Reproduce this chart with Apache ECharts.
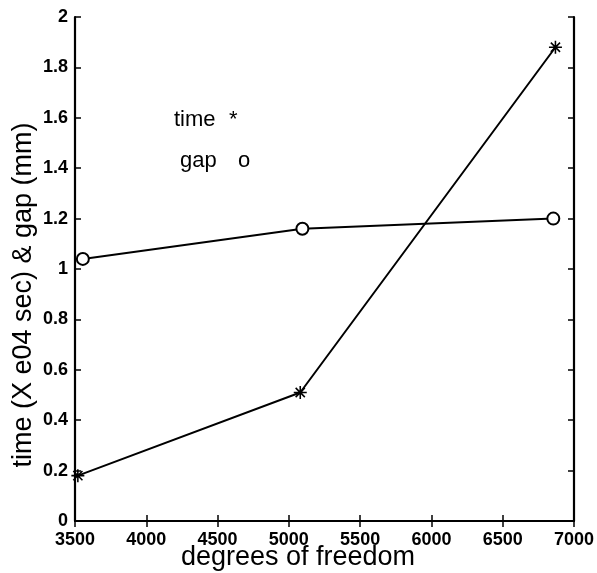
<!DOCTYPE html>
<html>
<head>
<meta charset="utf-8">
<script src="https://cdn.jsdelivr.net/npm/echarts@6/dist/echarts.min.js"></script>
<style>
  html, body { margin: 0; padding: 0; background: #fff; }
  #chart { width: 597px; height: 573px; }
</style>
</head>
<body>
<div id="chart"></div>
<script>
// degrees of freedom vs time (x 1e4 s) and gap (mm)
const dofTime = [3520, 5080, 6870]
const timeVals = [0.18, 0.51, 1.88]
const dofGap = [3555, 5095, 6855]
const gapVals = [1.04, 1.16, 1.20]
const xTicks = [3500, 4000, 4500, 5000, 5500, 6000, 6500, 7000]
const yTicks = [0, 0.2, 0.4, 0.6, 0.8, 1, 1.2, 1.4, 1.6, 1.8, 2]

// matlab style '*' marker
const starPath = 'path://M-10 -1.2 L10 -1.2 L10 1.2 L-10 1.2 Z ' +
  'M-1.2 -10 L1.2 -10 L1.2 10 L-1.2 10 Z ' +
  'M-7.92 -6.22 L-6.22 -7.92 L7.92 6.22 L6.22 7.92 Z ' +
  'M-7.92 6.22 L6.22 -7.92 L7.92 -6.22 L-6.22 7.92 Z'

const font = '"Liberation Sans", Arial, sans-serif'
const axisLine = { show: true, lineStyle: { color: '#000', width: 2.2 } }
const tickIn = { show: true, inside: true, length: 6, lineStyle: { color: '#000', width: 1.5 } }

function txt(s, x, y, size, extra) {
  return Object.assign({
    type: 'text', x: x, y: y,
    style: { text: s, fontSize: size, fontFamily: font, fill: '#000', verticalAlign: 'middle' }
  }, extra || {})
}

let myChart = echarts.init(document.getElementById('chart'))
const option = {
  animation: false,
  backgroundColor: '#fff',
  grid: { left: 75, right: 23, top: 17, bottom: 52 },
  xAxis: [
    {
      type: 'value', min: 3500, max: 7000, interval: 500, position: 'bottom',
      axisLine: axisLine, axisTick: tickIn, splitLine: { show: false },
      axisLabel: {
        color: '#000', fontSize: 18, fontWeight: 'bold', fontFamily: font, margin: 10,
        formatter: v => xTicks.includes(v) ? String(v) : ''
      }
    },
    {
      type: 'value', min: 3500, max: 7000, interval: 500, position: 'top',
      axisLine: axisLine, axisTick: tickIn, axisLabel: { show: false }, splitLine: { show: false }
    }
  ],
  yAxis: [
    {
      type: 'value', min: 0, max: 2, interval: 0.2, position: 'left',
      axisLine: axisLine, axisTick: tickIn, splitLine: { show: false },
      axisLabel: {
        color: '#000', fontSize: 18, fontWeight: 'bold', fontFamily: font, margin: 7,
        formatter: v => {
          const t = yTicks.find(k => Math.abs(k - v) < 1e-6)
          return t === undefined ? '' : String(t)
        }
      }
    },
    {
      type: 'value', min: 0, max: 2, interval: 0.2, position: 'right',
      axisLine: axisLine, axisTick: tickIn, axisLabel: { show: false }, splitLine: { show: false }
    }
  ],
  series: [
    {
      name: 'time', type: 'line',
      data: dofTime.map((d, i) => [d, timeVals[i]]),
      symbol: starPath, symbolSize: 13,
      lineStyle: { color: '#000', width: 2 },
      itemStyle: { color: '#000' }
    },
    {
      name: 'gap', type: 'line',
      data: dofGap.map((d, i) => [d, gapVals[i]]),
      symbol: 'emptyCircle', symbolSize: 12,
      lineStyle: { color: '#000', width: 2 },
      itemStyle: { color: '#000', borderColor: '#000', borderWidth: 2 }
    }
  ],
  graphic: [
    txt('time', 174, 120, 22),
    txt('*', 229, 120, 22),
    txt('gap', 180, 161, 22),
    txt('o', 238, 161, 22),
    txt('time (X e04 sec) & gap (mm)', 24, 295, 27, { rotation: Math.PI / 2, style: { text: 'time (X e04 sec) & gap (mm)', fontSize: 27, fontFamily: font, fill: '#000', align: 'center', verticalAlign: 'middle' } }),
    txt('degrees of freedom', 298, 558, 27, { style: { text: 'degrees of freedom', fontSize: 27, fontFamily: font, fill: '#000', align: 'center', verticalAlign: 'middle' } })
  ]
}
myChart.setOption(option)
window.addEventListener('resize', function () {
  myChart.resize()
})
</script>
</body>
</html>
